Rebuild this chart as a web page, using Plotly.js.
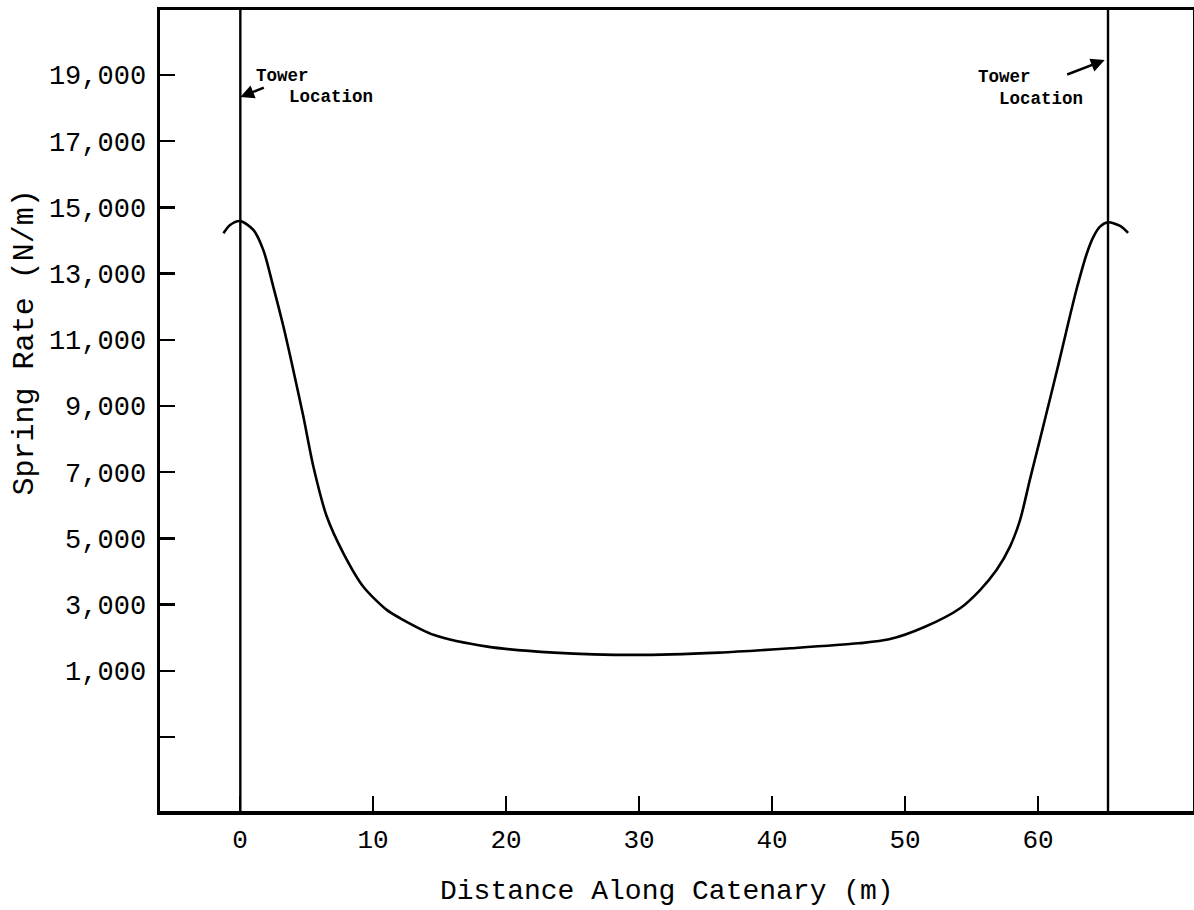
<!DOCTYPE html>
<html>
<head>
<meta charset="utf-8">
<script src="https://cdn.plot.ly/plotly-3.0.1.min.js"></script>
<style>
  html, body { margin: 0; padding: 0; background: #ffffff; }
  #chart { width: 1194px; height: 910px; }
</style>
</head>
<body>
<div id="chart"></div>
<script>
// ---- data ----
const distance_m = [-1.25, -0.75, 0, 1.0, 1.75, 2.5, 3.26, 4.0, 4.76, 5.51, 6.52, 7.77, 9.27, 11.03, 12.03,
  14.6, 18.6, 23.6, 29.7, 36.0, 41.4, 46.5, 48.8, 51.5, 54.14, 55.64, 56.89, 57.89, 58.65,
  59.4, 60.15, 60.9, 61.53, 62.16, 62.91, 63.66, 64.16, 64.66, 65.26, 66.17, 66.77];
const spring_rate = [14220, 14470, 14590, 14320, 13710, 12600, 11400, 10090, 8680, 7170, 5660, 4550, 3540, 2840, 2590,
  2080, 1730, 1550, 1480, 1550, 1680, 1830, 1950, 2330, 2890, 3440, 4050, 4750, 5560,
  6800, 8000, 9220, 10250, 11320, 12550, 13600, 14110, 14420, 14550, 14440, 14230];
const tower_x = [0.02, 65.26];
const tower_label_top = "Tower";
const tower_label_bottom = "Location";
const x_tick_values = [0, 10, 20, 30, 40, 50, 60];
const x_tick_labels = ["0", "10", "20", "30", "40", "50", "60"];
const y_tick_values = [19000, 17000, 15000, 13000, 11000, 9000, 7000, 5000, 3000, 1000, -1000];
const y_tick_labels = ["19,000", "17,000", "15,000", "13,000", "11,000", "9,000", "7,000", "5,000", "3,000", "1,000", ""];
const x_title = "Distance Along Catenary (m)";
const y_title = "Spring Rate (N/m)";

const FONT = "Liberation Mono, Courier New, monospace";

const trace = {
  x: distance_m,
  y: spring_rate,
  type: "scatter",
  mode: "lines",
  line: { color: "#000000", width: 2.6, shape: "spline", smoothing: 0.8 },
  hoverinfo: "skip",
  showlegend: false
};

const shapes = tower_x.map(function (tx) {
  return {
    type: "line", xref: "x", yref: "paper",
    x0: tx, x1: tx, y0: 0, y1: 1,
    line: { color: "#000000", width: 2.4 }
  };
});

const annFont = { family: FONT, size: 17.5, color: "#000000", weight: "bold" };

const annotations = [
  // axis titles
  { xref: "paper", yref: "paper", x: 0.491, y: -0.101, xanchor: "center", yanchor: "middle",
    text: x_title, showarrow: false, font: { family: FONT, size: 28, color: "#000000" } },
  { xref: "paper", yref: "paper", x: -0.1307, y: 0.585, xanchor: "center", yanchor: "middle",
    text: y_title, textangle: -90, showarrow: false, font: { family: FONT, size: 30, color: "#000000" } },
  // left tower label
  { xref: "paper", yref: "paper", x: 0.091, y: 0.9176, xanchor: "left", yanchor: "middle",
    text: tower_label_top, showarrow: false, font: annFont },
  { xref: "paper", yref: "paper", x: 0.1229, y: 0.8914, xanchor: "left", yanchor: "middle",
    text: tower_label_bottom, showarrow: false, font: annFont },
  // right tower label
  { xref: "paper", yref: "paper", x: 0.7895, y: 0.9164, xanchor: "left", yanchor: "middle",
    text: tower_label_top, showarrow: false, font: annFont },
  { xref: "paper", yref: "paper", x: 0.8098, y: 0.8889, xanchor: "left", yanchor: "middle",
    text: tower_label_bottom, showarrow: false, font: annFont },
  // arrows
  { xref: "x", yref: "y", x: tower_x[0], y: 18335, text: "", showarrow: true,
    arrowhead: 2, arrowsize: 1.1, arrowwidth: 2.5, arrowcolor: "#000000",
    ax: 25, ay: -10, standoff: 0 },
  { xref: "x", yref: "y", x: tower_x[1] - 0.25, y: 19450, text: "", showarrow: true,
    arrowhead: 2, arrowsize: 1.1, arrowwidth: 2.5, arrowcolor: "#000000",
    ax: -39, ay: 15, standoff: 0 }
];

const layout = {
  width: 1194,
  height: 910,
  margin: { l: 160, r: 1, t: 10, b: 99, pad: 0 },
  paper_bgcolor: "#ffffff",
  plot_bgcolor: "#ffffff",
  showlegend: false,
  font: { family: FONT, size: 27, color: "#000000" },
  xaxis: {
    range: [-6.02, 71.65],
    tickmode: "array",
    tickvals: x_tick_values,
    ticktext: x_tick_labels,
    ticks: "inside",
    ticklen: 15,
    tickwidth: 2,
    tickcolor: "#000000",
    ticklabelstandoff: 2,
    tickfont: { family: FONT, size: 26, color: "#000000" },
    showgrid: false,
    zeroline: false,
    showline: true,
    linecolor: "#000000",
    linewidth: 3.5,
    mirror: true,
    fixedrange: true
  },
  yaxis: {
    range: [-3236, 20964],
    tickmode: "array",
    tickvals: y_tick_values,
    ticktext: y_tick_labels,
    ticks: "inside",
    ticklen: 15,
    tickwidth: 2.5,
    tickcolor: "#000000",
    ticklabelstandoff: 5,
    tickfont: { family: FONT, size: 27, color: "#000000" },
    showgrid: false,
    zeroline: false,
    showline: true,
    linecolor: "#000000",
    linewidth: 3.5,
    mirror: true,
    fixedrange: true
  },
  shapes: shapes,
  annotations: annotations
};

Plotly.newPlot("chart", [trace], layout, { displayModeBar: false, staticPlot: true });
</script>
</body>
</html>
